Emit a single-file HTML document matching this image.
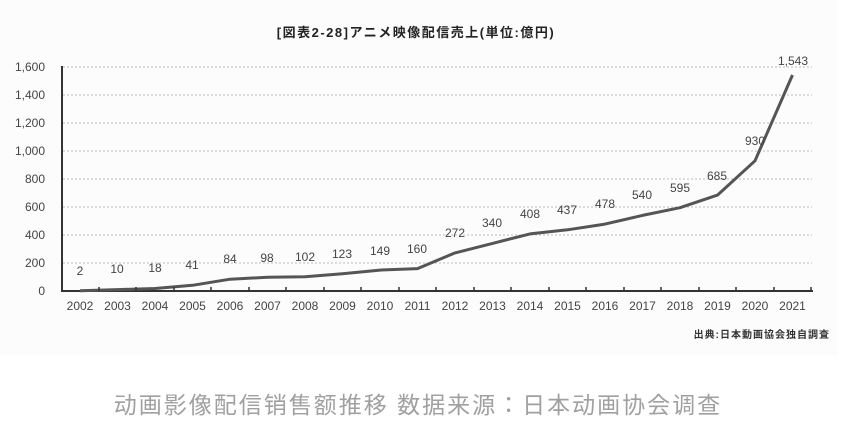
<!DOCTYPE html>
<html><head><meta charset="utf-8"><style>
body{margin:0;width:841px;height:425px;background:#fff;overflow:hidden}
svg text{font-family:"Liberation Sans","Noto Sans CJK JP",sans-serif}
</style></head><body>
<svg width="841" height="425" viewBox="0 0 841 425">
<rect x="0" y="0" width="838" height="355" fill="#fcfcfc"/>
<text x="416" y="37" text-anchor="middle" font-size="13" letter-spacing="1.5" font-weight="bold" fill="#222">[図表2-28]アニメ映像配信売上(単位:億円)</text>
<g stroke="#bbb" stroke-dasharray="2,2" stroke-width="1">
<line x1="63" x2="812" y1="263" y2="263"/><line x1="63" x2="812" y1="235" y2="235"/>
<line x1="63" x2="812" y1="207" y2="207"/><line x1="63" x2="812" y1="179" y2="179"/>
<line x1="63" x2="812" y1="151" y2="151"/><line x1="63" x2="812" y1="123" y2="123"/>
<line x1="63" x2="812" y1="95" y2="95"/><line x1="63" x2="812" y1="67" y2="67"/>
</g>
<line x1="62" y1="66" x2="62" y2="292" stroke="#333" stroke-width="2"/>
<line x1="61" y1="291" x2="813" y2="291" stroke="#333" stroke-width="2"/>
<g font-size="12" fill="#444" text-anchor="end">
<text x="45" y="295">0</text><text x="45" y="267">200</text><text x="45" y="239">400</text>
<text x="45" y="211">600</text><text x="45" y="183">800</text><text x="45" y="155">1,000</text>
<text x="45" y="127">1,200</text><text x="45" y="99">1,400</text><text x="45" y="71">1,600</text>
</g>
<polyline fill="none" stroke="#555" stroke-width="3" stroke-linejoin="round" points="80,290.7 117.5,289.6 155,288.5 192.5,285.3 230,279.2 267.5,277.3 305,276.7 342.5,273.8 380,270.1 417.5,268.6 455,252.9 492.5,243.4 530,233.9 567.5,229.8 605,224.1 642.5,215.4 680,207.7 717.5,195.1 755,160.8 792.5,75"/>
<g font-size="12" fill="#444" text-anchor="middle">
<text x="80" y="275">2</text><text x="117" y="273">10</text><text x="155" y="272">18</text>
<text x="192" y="269">41</text><text x="230" y="263">84</text><text x="267" y="262">98</text>
<text x="305" y="261">102</text><text x="342" y="258">123</text><text x="380" y="255">149</text>
<text x="417" y="253">160</text><text x="455" y="237">272</text><text x="492" y="227">340</text>
<text x="530" y="218">408</text><text x="567" y="214">437</text><text x="605" y="208">478</text>
<text x="642" y="199">540</text><text x="680" y="192">595</text><text x="717" y="180">685</text>
<text x="755" y="145">930</text><text x="793" y="65">1,543</text>
</g>
<g font-size="12" fill="#444" text-anchor="middle">
<text x="80" y="310">2002</text><text x="117.5" y="310">2003</text><text x="155" y="310">2004</text><text x="192.5" y="310">2005</text><text x="230" y="310">2006</text><text x="267.5" y="310">2007</text><text x="305" y="310">2008</text><text x="342.5" y="310">2009</text><text x="380" y="310">2010</text><text x="417.5" y="310">2011</text><text x="455" y="310">2012</text><text x="492.5" y="310">2013</text><text x="530" y="310">2014</text><text x="567.5" y="310">2015</text><text x="605" y="310">2016</text><text x="642.5" y="310">2017</text><text x="680" y="310">2018</text><text x="717.5" y="310">2019</text><text x="755" y="310">2020</text><text x="792.5" y="310">2021</text>
</g>
<g stroke="#333" stroke-width="1.5">
<line x1="99" x2="99" y1="287" y2="291"/><line x1="136" x2="136" y1="287" y2="291"/><line x1="174" x2="174" y1="287" y2="291"/><line x1="211" x2="211" y1="287" y2="291"/><line x1="249" x2="249" y1="287" y2="291"/><line x1="286" x2="286" y1="287" y2="291"/><line x1="324" x2="324" y1="287" y2="291"/><line x1="361" x2="361" y1="287" y2="291"/><line x1="399" x2="399" y1="287" y2="291"/><line x1="436" x2="436" y1="287" y2="291"/><line x1="474" x2="474" y1="287" y2="291"/><line x1="511" x2="511" y1="287" y2="291"/><line x1="549" x2="549" y1="287" y2="291"/><line x1="586" x2="586" y1="287" y2="291"/><line x1="624" x2="624" y1="287" y2="291"/><line x1="661" x2="661" y1="287" y2="291"/><line x1="699" x2="699" y1="287" y2="291"/><line x1="736" x2="736" y1="287" y2="291"/><line x1="774" x2="774" y1="287" y2="291"/><line x1="811" x2="811" y1="287" y2="291"/>
</g>
<text x="830" y="338" text-anchor="end" font-size="10" letter-spacing="1" font-weight="bold" fill="#333">出典:日本動画協会独自調査</text>
<text x="418" y="413" text-anchor="middle" font-size="23" letter-spacing="2" fill="#a0a0a0">动画影像配信销售额推移 数据来源：日本动画协会调查</text>
</svg>
</body></html>
